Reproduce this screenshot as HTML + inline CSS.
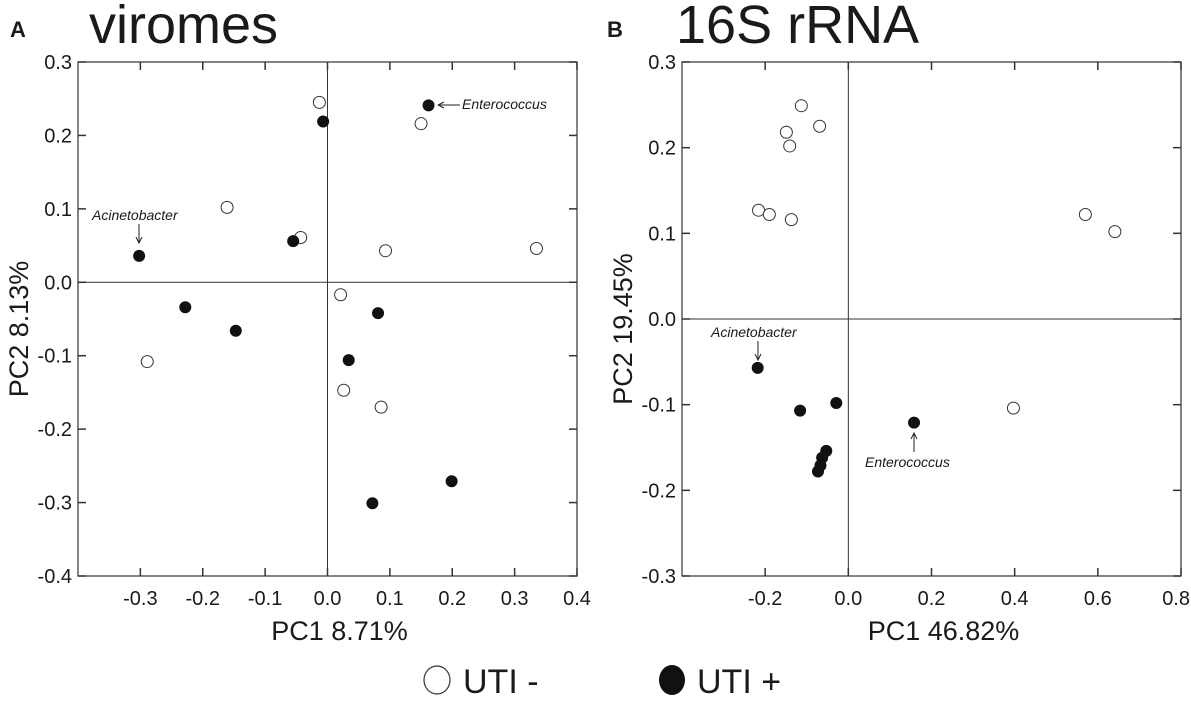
<!DOCTYPE html>
<html><head><meta charset="utf-8"><style>
html,body{margin:0;padding:0;background:#fff;}
svg{display:block;font-family:"Liberation Sans",Arial,sans-serif;}
</style></head><body>
<svg id="fig" width="1191" height="701" viewBox="0 0 1191 701">
<defs><marker id="ah" markerWidth="8" markerHeight="8" refX="7" refY="4" orient="auto"><path d="M1,1 L7,4 L1,7" fill="none" stroke="#222" stroke-width="1"/></marker></defs>
<text x="10" y="37" font-size="22" font-weight="bold" fill="#1a1a1a">A</text>
<text x="89" y="43" font-size="54" fill="#1a1a1a">viromes</text>
<text x="607" y="37" font-size="22" font-weight="bold" fill="#1a1a1a">B</text>
<text x="676" y="43" font-size="54" fill="#1a1a1a">16S rRNA</text>
<g id="pa"></g>
<g id="pb"></g>
<g>
<ellipse cx="437" cy="680" rx="13" ry="14" fill="#fff" stroke="#333" stroke-width="1.2"/>
<text x="463" y="693" font-size="34" fill="#1a1a1a">UTI -</text>
<ellipse cx="672" cy="680" rx="13" ry="15" fill="#111"/>
<text x="697" y="693" font-size="34" fill="#1a1a1a">UTI +</text>
</g>
</svg>
<script>
// Panel A data (viromes)
const aOpenX=[-0.013,0.150,-0.161,-0.043,0.093,0.335,0.021,-0.289,0.026,0.086];
const aOpenY=[0.245,0.216,0.102,0.061,0.043,0.046,-0.017,-0.108,-0.147,-0.170];
const aFillX=[0.162,-0.007,-0.055,-0.302,-0.228,-0.147,0.081,0.034,0.199,0.072];
const aFillY=[0.241,0.219,0.056,0.036,-0.034,-0.066,-0.042,-0.106,-0.271,-0.301];
const aXTicks=[-0.3,-0.2,-0.1,0.0,0.1,0.2,0.3,0.4];
const aYTicks=[0.3,0.2,0.1,0.0,-0.1,-0.2,-0.3,-0.4];
// Panel B data (16S rRNA)
const bOpenX=[-0.113,-0.069,-0.149,-0.141,-0.216,-0.190,-0.137,0.570,0.641,0.397];
const bOpenY=[0.249,0.225,0.218,0.202,0.127,0.122,0.116,0.122,0.102,-0.104];
const bFillX=[-0.218,-0.116,-0.029,0.158,-0.053,-0.063,-0.067,-0.073];
const bFillY=[-0.057,-0.107,-0.098,-0.121,-0.154,-0.162,-0.171,-0.178];
const bXTicks=[-0.2,0.0,0.2,0.4,0.6,0.8];
const bYTicks=[0.3,0.2,0.1,0.0,-0.1,-0.2,-0.3];

const NS='http://www.w3.org/2000/svg';
function mk(parent,tag,attrs){const e=document.createElementNS(NS,tag);for(const k in attrs)e.setAttribute(k,attrs[k]);parent.appendChild(e);return e;}

function panel(g,box,xd,yd,xt,yt,openX,openY,fillX,fillY,xlab,ylab,ylabX,ann){
  const sx=v=>box.l+(v-xd[0])/(xd[1]-xd[0])*(box.r-box.l);
  const sy=v=>box.b-(v-yd[0])/(yd[1]-yd[0])*(box.b-box.t);
  const fr=mk(g,'rect',{x:box.l,y:box.t,width:box.r-box.l,height:box.b-box.t,fill:'none',stroke:'#333','stroke-width':1.2});
  
  
  const zx=mk(g,'line',{x1:sx(0),x2:sx(0),y1:box.t,y2:box.b,stroke:'#333','stroke-width':1});
  
  
  const zy=mk(g,'line',{x1:box.l,x2:box.r,y1:sy(0),y2:sy(0),stroke:'#333','stroke-width':1});
  
  
  xt.forEach(v=>{
    const x=sx(v);
    mk(g,'line',{x1:x,x2:x,y1:box.b,y2:box.b-8,stroke:'#333','stroke-width':1.5});
    mk(g,'line',{x1:x,x2:x,y1:box.t,y2:box.t+8,stroke:'#333','stroke-width':1.5});
    const edge=x+18>1191;
    const t=mk(g,'text',{x:edge?1190:x,y:box.b+29,'font-size':20,'text-anchor':edge?'end':'middle',fill:'#1a1a1a'});
    t.textContent=v.toFixed(1);
    
    
  });
  yt.forEach(v=>{
    const y=sy(v);
    mk(g,'line',{x1:box.l,x2:box.l+8,y1:y,y2:y,stroke:'#333','stroke-width':1.5});
    mk(g,'line',{x1:box.r,x2:box.r-8,y1:y,y2:y,stroke:'#333','stroke-width':1.5});
    const t=mk(g,'text',{x:box.l-6,y:y+7,'font-size':20,'text-anchor':'end',fill:'#1a1a1a'});
    t.textContent=v.toFixed(1);
    
    
  });
  const xl=mk(g,'text',{x:(box.l+box.r)/2+12,y:640,'font-size':27,'text-anchor':'middle',fill:'#1a1a1a'});
  xl.textContent=xlab;
  
  
  const yc=(box.t+box.b)/2+10;
  const yl=mk(g,'text',{x:ylabX,y:yc,'font-size':27,'text-anchor':'middle',fill:'#1a1a1a',transform:'rotate(-90 '+ylabX+' '+yc+')'});
  yl.textContent=ylab;
  
  
  openX.forEach((v,i)=>{
    const c=mk(g,'circle',{cx:sx(v),cy:sy(openY[i]),r:6,fill:'#fff',stroke:'#333','stroke-width':1});
    
    
  });
  fillX.forEach((v,i)=>{
    const c=mk(g,'circle',{cx:sx(v),cy:sy(fillY[i]),r:6,fill:'#111'});
    
    
  });
  ann.forEach(a=>{
    const t=mk(g,'text',{x:a.tx,y:a.ty,'font-size':14,'font-style':'italic',fill:'#1a1a1a'});
    t.textContent=a.label;
    
    
    const l=mk(g,'line',{x1:a.x1,y1:a.y1,x2:a.x2,y2:a.y2,stroke:'#222','stroke-width':1,'marker-end':'url(#ah)'});
    
    
  });
}
panel(document.getElementById('pa'),{l:78,r:577,t:62,b:576},[-0.4,0.4],[-0.4,0.3],aXTicks,aYTicks,aOpenX,aOpenY,aFillX,aFillY,'PC1 8.71%','PC2 8.13%',28,
 [{label:'Acinetobacter',tx:92,ty:220,x1:139,y1:224,x2:139,y2:243},
  {label:'Enterococcus',tx:462,ty:109,x1:460,y1:105,x2:438,y2:105}]);
panel(document.getElementById('pb'),{l:682,r:1181,t:62,b:576},[-0.4,0.8],[-0.3,0.3],bXTicks,bYTicks,bOpenX,bOpenY,bFillX,bFillY,'PC1 46.82%','PC2 19.45%',632,
 [{label:'Acinetobacter',tx:711,ty:337,x1:758,y1:341,x2:758,y2:360},
  {label:'Enterococcus',tx:865,ty:467,x1:914,y1:452,x2:914,y2:433}]);
</script>
</body></html>
